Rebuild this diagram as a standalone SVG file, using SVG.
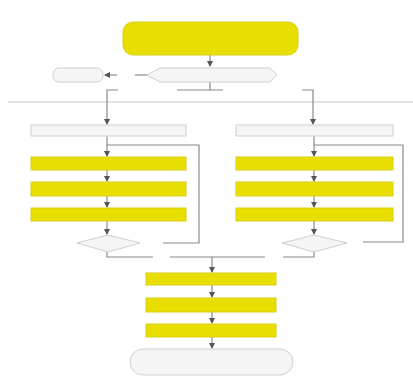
<svg xmlns="http://www.w3.org/2000/svg" width="413" height="378" viewBox="0 0 413 378">
<style>
.y{fill:#e8df00;stroke:#d9cf10;stroke-width:1}
.w{fill:#f5f5f5;stroke:#cfcfcf;stroke-width:1}
.c{fill:none;stroke:#8a8a8a;stroke-width:1.2}
.sep{fill:none;stroke:#c8c8c8;stroke-width:1.2}
</style>
<defs>
<marker id="a" viewBox="0 0 6 6" refX="5" refY="3" markerWidth="5" markerHeight="5" orient="auto">
<path d="M0,0 L6,3 L0,6 z" fill="#555"/>
</marker>
</defs>
<rect width="413" height="378" fill="#ffffff"/>
<line class="sep" x1="8" y1="102" x2="413" y2="102"/>
<g id="connectors">
<path class="c" d="M210,55 V66" marker-end="url(#a)"/>
<path class="c" d="M147,75 H135"/>
<path class="c" d="M117,75 H105" marker-end="url(#a)"/>
<path class="c" d="M210,82 V90 M177,90 H223"/>
<path class="c" d="M118,90 H107 V124" marker-end="url(#a)"/>
<path class="c" d="M302,90 H313 V124" marker-end="url(#a)"/>
<path class="c" d="M107,136 V156" marker-end="url(#a)"/>
<path class="c" d="M107,170 V181" marker-end="url(#a)"/>
<path class="c" d="M107,196 V207" marker-end="url(#a)"/>
<path class="c" d="M107,221 V234" marker-end="url(#a)"/>
<path class="c" d="M107,145 H199 V243 H163"/>
<path class="c" d="M314,136 V156" marker-end="url(#a)"/>
<path class="c" d="M314,170 V181" marker-end="url(#a)"/>
<path class="c" d="M314,196 V207" marker-end="url(#a)"/>
<path class="c" d="M314,221 V234" marker-end="url(#a)"/>
<path class="c" d="M314,145 H403 V242 H363"/>
<path class="c" d="M107,252 V257 H153 M170,257 H265 M283,257 H314 V252"/>
<path class="c" d="M212,257 V272" marker-end="url(#a)"/>
<path class="c" d="M212,285 V297" marker-end="url(#a)"/>
<path class="c" d="M212,312 V323" marker-end="url(#a)"/>
<path class="c" d="M212,337 V348" marker-end="url(#a)"/>
</g>
<g id="start"><rect class="y" x="123" y="22" width="175" height="33" rx="10"/></g>
<g id="decision0"><polygon class="w" points="147,75 160,68 270,68 277,75 270,82 160,82"/></g>
<g id="side"><rect class="w" x="53" y="68" width="50" height="14" rx="6"/></g>
<g id="left-head"><rect class="w" x="31" y="125" width="155" height="11"/></g>
<g id="left-1"><rect class="y" x="31" y="157" width="155" height="13"/></g>
<g id="left-2"><rect class="y" x="31" y="182" width="155" height="14"/></g>
<g id="left-3"><rect class="y" x="31" y="208" width="155" height="13"/></g>
<g id="left-dec"><polygon class="w" points="77,243 108,235 140,243 108,252"/></g>
<g id="right-head"><rect class="w" x="236" y="125" width="157" height="11"/></g>
<g id="right-1"><rect class="y" x="236" y="157" width="157" height="13"/></g>
<g id="right-2"><rect class="y" x="236" y="182" width="157" height="14"/></g>
<g id="right-3"><rect class="y" x="236" y="208" width="157" height="13"/></g>
<g id="right-dec"><polygon class="w" points="282,243 314,235 347,243 314,252"/></g>
<g id="mid-1"><rect class="y" x="146" y="273" width="130" height="12"/></g>
<g id="mid-2"><rect class="y" x="146" y="298" width="130" height="14"/></g>
<g id="mid-3"><rect class="y" x="146" y="324" width="130" height="13"/></g>
<g id="end"><rect class="w" x="130" y="349" width="163" height="26" rx="13"/></g>
</svg>
